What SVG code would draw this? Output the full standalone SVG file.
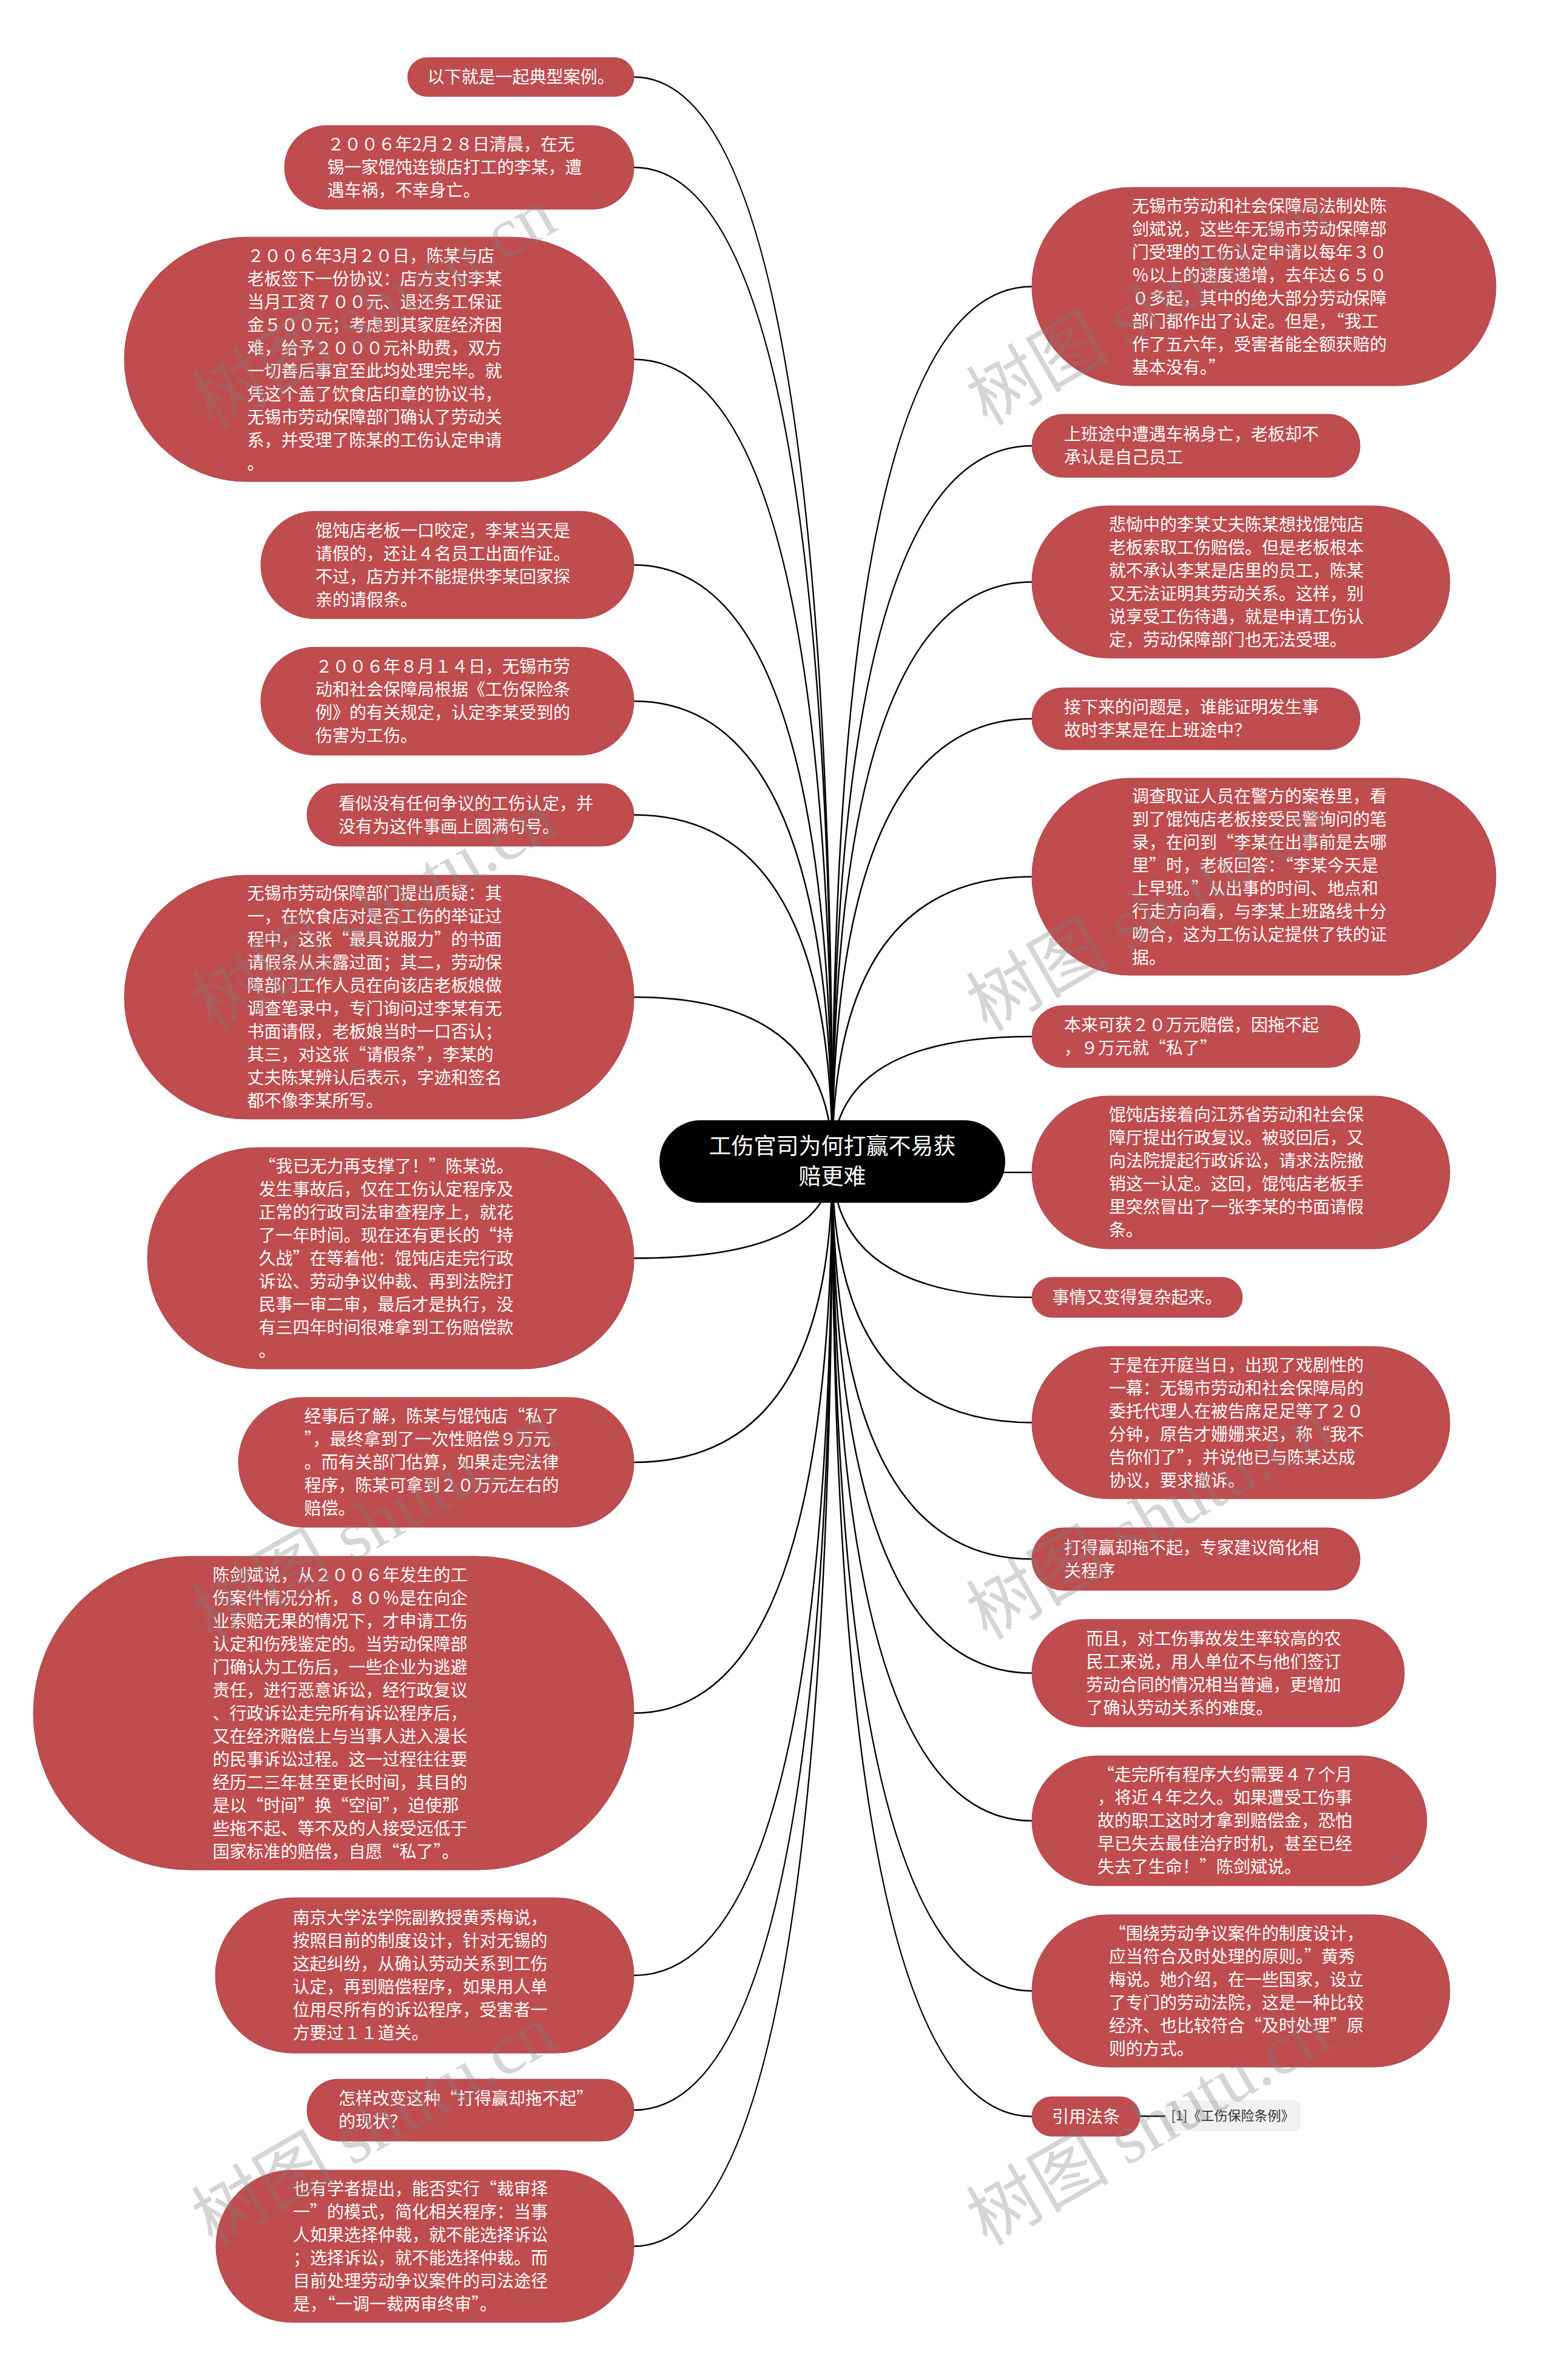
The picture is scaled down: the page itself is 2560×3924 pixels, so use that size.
<svg xmlns="http://www.w3.org/2000/svg" width="2560" height="3924" viewBox="0 0 2560 3924">
<style>
.bg{fill:#ffffff}
.node rect{fill:#bf4c4e;stroke:#b0444a;stroke-width:1}
.node text{fill:#ffffff;font-family:"Noto Sans CJK SC","Liberation Sans",sans-serif;font-size:28px}
.root rect{fill:#000000}
.root text{fill:#ffffff;font-family:"Noto Sans CJK SC","Liberation Sans",sans-serif;font-size:37px;text-anchor:middle}
.sub rect{fill:#f1f1f1;stroke:#e6e6e6;stroke-width:1}
.sub text{fill:#333333;font-family:"Noto Sans CJK SC","Liberation Sans",sans-serif;font-size:22px;text-anchor:middle}
.mid{text-anchor:middle}
#connectors path{fill:none;stroke:#000000;stroke-width:2.5}
.wm{fill:#808080;opacity:0.32;font-family:"Liberation Serif","Noto Sans CJK SC",serif;font-size:118px}
</style>
<rect class="bg" x="0" y="0" width="2560" height="3924"/>
<g id="connectors">
<path d="M1372 1915 Q1372 127 1045 127"/>
<path d="M1372 1915 Q1372 276 1045 276"/>
<path d="M1372 1915 Q1372 592.5 1045 592.5"/>
<path d="M1372 1915 Q1372 931.5 1045 931.5"/>
<path d="M1372 1915 Q1372 1156 1045 1156"/>
<path d="M1372 1915 Q1372 1343.5 1045 1343.5"/>
<path d="M1372 1915 Q1372 1644 1045 1644"/>
<path d="M1372 1915 Q1372 2074.5 1045 2074.5"/>
<path d="M1372 1915 Q1372 2411 1045 2411"/>
<path d="M1372 1915 Q1372 2824.5 1045 2824.5"/>
<path d="M1372 1915 Q1372 3257 1045 3257"/>
<path d="M1372 1915 Q1372 3479 1045 3479"/>
<path d="M1372 1915 Q1372 3703.5 1045 3703.5"/>
<path d="M1372 1915 Q1372 472.5 1701 472.5"/>
<path d="M1372 1915 Q1372 735 1701 735"/>
<path d="M1372 1915 Q1372 959.5 1701 959.5"/>
<path d="M1372 1915 Q1372 1185 1701 1185"/>
<path d="M1372 1915 Q1372 1445.5 1701 1445.5"/>
<path d="M1372 1915 Q1372 1709 1701 1709"/>
<path d="M1372 1915 Q1372 1933 1701 1933"/>
<path d="M1372 1915 Q1372 2139 1701 2139"/>
<path d="M1372 1915 Q1372 2345.5 1701 2345.5"/>
<path d="M1372 1915 Q1372 2570.5 1701 2570.5"/>
<path d="M1372 1915 Q1372 2758.5 1701 2758.5"/>
<path d="M1372 1915 Q1372 3002 1701 3002"/>
<path d="M1372 1915 Q1372 3282.5 1701 3282.5"/>
<path d="M1372 1915 Q1372 3489.5 1701 3489.5"/>
<path d="M1879 3489 L1921 3489"/>
</g>

<g id="L1" class="node"><rect x="672" y="95" width="373" height="64" rx="32"/><text class="mid" x="858.5" y="137">以下就是一起典型案例。</text></g>
<g id="L2" class="node"><rect x="469" y="207" width="576" height="138" rx="69"/><text x="539.5" y="248"><tspan x="539.5">２００６年2月２８日清晨，在无</tspan><tspan x="539.5" dy="38">锡一家馄饨连锁店打工的李某，遭</tspan><tspan x="539.5" dy="38">遇车祸，不幸身亡。</tspan></text></g>
<g id="L3" class="node"><rect x="205" y="391" width="840" height="403" rx="201.5"/><text x="407.5" y="431.5"><tspan x="407.5">２００６年3月２０日，陈某与店</tspan><tspan x="407.5" dy="38">老板签下一份协议：店方支付李某</tspan><tspan x="407.5" dy="38">当月工资７００元、退还务工保证</tspan><tspan x="407.5" dy="38">金５００元；考虑到其家庭经济困</tspan><tspan x="407.5" dy="38">难，给予２０００元补助费，双方</tspan><tspan x="407.5" dy="38">一切善后事宜至此均处理完毕。就</tspan><tspan x="407.5" dy="38">凭这个盖了饮食店印章的协议书，</tspan><tspan x="407.5" dy="38">无锡市劳动保障部门确认了劳动关</tspan><tspan x="407.5" dy="38">系，并受理了陈某的工伤认定申请</tspan><tspan x="407.5" dy="38">。</tspan></text></g>
<g id="L4" class="node"><rect x="430" y="843" width="615" height="177" rx="88.5"/><text x="520" y="884.5"><tspan x="520">馄饨店老板一口咬定，李某当天是</tspan><tspan x="520" dy="38">请假的，还让４名员工出面作证。</tspan><tspan x="520" dy="38">不过，店方并不能提供李某回家探</tspan><tspan x="520" dy="38">亲的请假条。</tspan></text></g>
<g id="L5" class="node"><rect x="430" y="1067" width="615" height="178" rx="89"/><text x="520" y="1109"><tspan x="520">２００６年８月１４日，无锡市劳</tspan><tspan x="520" dy="38">动和社会保障局根据《工伤保险条</tspan><tspan x="520" dy="38">例》的有关规定，认定李某受到的</tspan><tspan x="520" dy="38">伤害为工伤。</tspan></text></g>
<g id="L6" class="node"><rect x="506" y="1292" width="539" height="103" rx="51.5"/><text x="558" y="1334.5"><tspan x="558">看似没有任何争议的工伤认定，并</tspan><tspan x="558" dy="38">没有为这件事画上圆满句号。</tspan></text></g>
<g id="L7" class="node"><rect x="205" y="1443" width="840" height="402" rx="201"/><text x="407.5" y="1483"><tspan x="407.5">无锡市劳动保障部门提出质疑：其</tspan><tspan x="407.5" dy="38">一，在饮食店对是否工伤的举证过</tspan><tspan x="407.5" dy="38">程中，这张“最具说服力”的书面</tspan><tspan x="407.5" dy="38">请假条从未露过面；其二，劳动保</tspan><tspan x="407.5" dy="38">障部门工作人员在向该店老板娘做</tspan><tspan x="407.5" dy="38">调查笔录中，专门询问过李某有无</tspan><tspan x="407.5" dy="38">书面请假，老板娘当时一口否认；</tspan><tspan x="407.5" dy="38">其三，对这张“请假条”，李某的</tspan><tspan x="407.5" dy="38">丈夫陈某辨认后表示，字迹和签名</tspan><tspan x="407.5" dy="38">都不像李某所写。</tspan></text></g>
<g id="L8" class="node"><rect x="243" y="1892" width="802" height="365" rx="182.5"/><text x="426.5" y="1932.5"><tspan x="426.5">“我已无力再支撑了！”陈某说。</tspan><tspan x="426.5" dy="38">发生事故后，仅在工伤认定程序及</tspan><tspan x="426.5" dy="38">正常的行政司法审查程序上，就花</tspan><tspan x="426.5" dy="38">了一年时间。现在还有更长的“持</tspan><tspan x="426.5" dy="38">久战”在等着他：馄饨店走完行政</tspan><tspan x="426.5" dy="38">诉讼、劳动争议仲裁、再到法院打</tspan><tspan x="426.5" dy="38">民事一审二审，最后才是执行，没</tspan><tspan x="426.5" dy="38">有三四年时间很难拿到工伤赔偿款</tspan><tspan x="426.5" dy="38">。</tspan></text></g>
<g id="L9" class="node"><rect x="393" y="2304" width="652" height="214" rx="107"/><text x="501.5" y="2345"><tspan x="501.5">经事后了解，陈某与馄饨店“私了</tspan><tspan x="501.5" dy="38">”，最终拿到了一次性赔偿９万元</tspan><tspan x="501.5" dy="38">。而有关部门估算，如果走完法律</tspan><tspan x="501.5" dy="38">程序，陈某可拿到２０万元左右的</tspan><tspan x="501.5" dy="38">赔偿。</tspan></text></g>
<g id="L10" class="node"><rect x="55" y="2566" width="990" height="517" rx="258.5"/><text x="350.5" y="2606.5"><tspan x="350.5">陈剑斌说，从２００６年发生的工</tspan><tspan x="350.5" dy="38">伤案件情况分析，８０％是在向企</tspan><tspan x="350.5" dy="38">业索赔无果的情况下，才申请工伤</tspan><tspan x="350.5" dy="38">认定和伤残鉴定的。当劳动保障部</tspan><tspan x="350.5" dy="38">门确认为工伤后，一些企业为逃避</tspan><tspan x="350.5" dy="38">责任，进行恶意诉讼，经行政复议</tspan><tspan x="350.5" dy="38">、行政诉讼走完所有诉讼程序后，</tspan><tspan x="350.5" dy="38">又在经济赔偿上与当事人进入漫长</tspan><tspan x="350.5" dy="38">的民事诉讼过程。这一过程往往要</tspan><tspan x="350.5" dy="38">经历二三年甚至更长时间，其目的</tspan><tspan x="350.5" dy="38">是以“时间”换“空间”，迫使那</tspan><tspan x="350.5" dy="38">些拖不起、等不及的人接受远低于</tspan><tspan x="350.5" dy="38">国家标准的赔偿，自愿“私了”。</tspan></text></g>
<g id="L11" class="node"><rect x="355" y="3129" width="690" height="256" rx="128"/><text x="482.5" y="3172"><tspan x="482.5">南京大学法学院副教授黄秀梅说，</tspan><tspan x="482.5" dy="38">按照目前的制度设计，针对无锡的</tspan><tspan x="482.5" dy="38">这起纠纷，从确认劳动关系到工伤</tspan><tspan x="482.5" dy="38">认定，再到赔偿程序，如果用人单</tspan><tspan x="482.5" dy="38">位用尽所有的诉讼程序，受害者一</tspan><tspan x="482.5" dy="38">方要过１１道关。</tspan></text></g>
<g id="L12" class="node"><rect x="506" y="3428" width="539" height="102" rx="51"/><text x="558" y="3470"><tspan x="558">怎样改变这种“打得赢却拖不起”</tspan><tspan x="558" dy="38">的现状？</tspan></text></g>
<g id="L13" class="node"><rect x="356" y="3578" width="689" height="251" rx="125.5"/><text x="483" y="3618.5"><tspan x="483">也有学者提出，能否实行“裁审择</tspan><tspan x="483" dy="38">一”的模式，简化相关程序：当事</tspan><tspan x="483" dy="38">人如果选择仲裁，就不能选择诉讼</tspan><tspan x="483" dy="38">；选择诉讼，就不能选择仲裁。而</tspan><tspan x="483" dy="38">目前处理劳动争议案件的司法途径</tspan><tspan x="483" dy="38">是，“一调一裁两审终审”。</tspan></text></g>

<g id="R1" class="node"><rect x="1701" y="309" width="765" height="327" rx="163.5"/><text x="1866" y="349.5"><tspan x="1866">无锡市劳动和社会保障局法制处陈</tspan><tspan x="1866" dy="38">剑斌说，这些年无锡市劳动保障部</tspan><tspan x="1866" dy="38">门受理的工伤认定申请以每年３０</tspan><tspan x="1866" dy="38">％以上的速度递增，去年达６５０</tspan><tspan x="1866" dy="38">０多起，其中的绝大部分劳动保障</tspan><tspan x="1866" dy="38">部门都作出了认定。但是，“我工</tspan><tspan x="1866" dy="38">作了五六年，受害者能全额获赔的</tspan><tspan x="1866" dy="38">基本没有。”</tspan></text></g>
<g id="R2" class="node"><rect x="1701" y="683" width="541" height="104" rx="52"/><text x="1754" y="726"><tspan x="1754">上班途中遭遇车祸身亡，老板却不</tspan><tspan x="1754" dy="38">承认是自己员工</tspan></text></g>
<g id="R3" class="node"><rect x="1701" y="834" width="689" height="251" rx="125.5"/><text x="1828" y="874.5"><tspan x="1828">悲恸中的李某丈夫陈某想找馄饨店</tspan><tspan x="1828" dy="38">老板索取工伤赔偿。但是老板根本</tspan><tspan x="1828" dy="38">就不承认李某是店里的员工，陈某</tspan><tspan x="1828" dy="38">又无法证明其劳动关系。这样，别</tspan><tspan x="1828" dy="38">说享受工伤待遇，就是申请工伤认</tspan><tspan x="1828" dy="38">定，劳动保障部门也无法受理。</tspan></text></g>
<g id="R4" class="node"><rect x="1701" y="1134" width="541" height="102" rx="51"/><text x="1754" y="1176"><tspan x="1754">接下来的问题是，谁能证明发生事</tspan><tspan x="1754" dy="38">故时李某是在上班途中？</tspan></text></g>
<g id="R5" class="node"><rect x="1701" y="1283" width="765" height="325" rx="162.5"/><text x="1866" y="1322.5"><tspan x="1866">调查取证人员在警方的案卷里，看</tspan><tspan x="1866" dy="38">到了馄饨店老板接受民警询问的笔</tspan><tspan x="1866" dy="38">录，在问到“李某在出事前是去哪</tspan><tspan x="1866" dy="38">里”时，老板回答：“李某今天是</tspan><tspan x="1866" dy="38">上早班。”从出事的时间、地点和</tspan><tspan x="1866" dy="38">行走方向看，与李某上班路线十分</tspan><tspan x="1866" dy="38">吻合，这为工伤认定提供了铁的证</tspan><tspan x="1866" dy="38">据。</tspan></text></g>
<g id="R6" class="node"><rect x="1701" y="1658" width="541" height="102" rx="51"/><text x="1754" y="1700"><tspan x="1754">本来可获２０万元赔偿，因拖不起</tspan><tspan x="1754" dy="38">，９万元就“私了”</tspan></text></g>
<g id="R7" class="node"><rect x="1701" y="1807" width="689" height="252" rx="126"/><text x="1828" y="1848"><tspan x="1828">馄饨店接着向江苏省劳动和社会保</tspan><tspan x="1828" dy="38">障厅提出行政复议。被驳回后，又</tspan><tspan x="1828" dy="38">向法院提起行政诉讼，请求法院撤</tspan><tspan x="1828" dy="38">销这一认定。这回，馄饨店老板手</tspan><tspan x="1828" dy="38">里突然冒出了一张李某的书面请假</tspan><tspan x="1828" dy="38">条。</tspan></text></g>
<g id="R8" class="node"><rect x="1701" y="2106" width="347" height="66" rx="33"/><text class="mid" x="1874.5" y="2149">事情又变得复杂起来。</text></g>
<g id="R9" class="node"><rect x="1701" y="2220" width="689" height="251" rx="125.5"/><text x="1828" y="2260.5"><tspan x="1828">于是在开庭当日，出现了戏剧性的</tspan><tspan x="1828" dy="38">一幕：无锡市劳动和社会保障局的</tspan><tspan x="1828" dy="38">委托代理人在被告席足足等了２０</tspan><tspan x="1828" dy="38">分钟，原告才姗姗来迟，称“我不</tspan><tspan x="1828" dy="38">告你们了”，并说他已与陈某达成</tspan><tspan x="1828" dy="38">协议，要求撤诉。</tspan></text></g>
<g id="R10" class="node"><rect x="1701" y="2519" width="541" height="103" rx="51.5"/><text x="1754" y="2561.5"><tspan x="1754">打得赢却拖不起，专家建议简化相</tspan><tspan x="1754" dy="38">关程序</tspan></text></g>
<g id="R11" class="node"><rect x="1701" y="2670" width="614" height="177" rx="88.5"/><text x="1790.5" y="2711.5"><tspan x="1790.5">而且，对工伤事故发生率较高的农</tspan><tspan x="1790.5" dy="38">民工来说，用人单位不与他们签订</tspan><tspan x="1790.5" dy="38">劳动合同的情况相当普遍，更增加</tspan><tspan x="1790.5" dy="38">了确认劳动关系的难度。</tspan></text></g>
<g id="R12" class="node"><rect x="1701" y="2895" width="651" height="214" rx="107"/><text x="1809" y="2936"><tspan x="1809">“走完所有程序大约需要４７个月</tspan><tspan x="1809" dy="38">，将近４年之久。如果遭受工伤事</tspan><tspan x="1809" dy="38">故的职工这时才拿到赔偿金，恐怕</tspan><tspan x="1809" dy="38">早已失去最佳治疗时机，甚至已经</tspan><tspan x="1809" dy="38">失去了生命！”陈剑斌说。</tspan></text></g>
<g id="R13" class="node"><rect x="1701" y="3157" width="689" height="251" rx="125.5"/><text x="1828" y="3197.5"><tspan x="1828">“围绕劳动争议案件的制度设计，</tspan><tspan x="1828" dy="38">应当符合及时处理的原则。”黄秀</tspan><tspan x="1828" dy="38">梅说。她介绍，在一些国家，设立</tspan><tspan x="1828" dy="38">了专门的劳动法院，这是一种比较</tspan><tspan x="1828" dy="38">经济、也比较符合“及时处理”原</tspan><tspan x="1828" dy="38">则的方式。</tspan></text></g>
<g id="R14" class="node"><rect x="1701" y="3457" width="178" height="65" rx="32.5"/><text class="mid" x="1790" y="3499.5">引用法条</text></g>
<g id="R14a" class="sub"><rect x="1921" y="3464" width="222" height="49" rx="8"/><text x="2032" y="3496">[1]《工伤保险条例》</text></g>

<g id="root" class="root"><rect x="1087" y="1847" width="570" height="136" rx="68"/><text x="1372" y="1903">工伤官司为何打赢不易获</text><text x="1372" y="1953">赔更难</text></g>

<g id="watermark">
<text class="wm" transform="translate(350 708) rotate(-30)">树图 shutu.cn</text>
<text class="wm" transform="translate(350 1702) rotate(-30)">树图 shutu.cn</text>
<text class="wm" transform="translate(350 2710) rotate(-30)">树图 shutu.cn</text>
<text class="wm" transform="translate(350 3704) rotate(-30)">树图 shutu.cn</text>
<text class="wm" transform="translate(1627 703) rotate(-30)">树图 shutu.cn</text>
<text class="wm" transform="translate(1627 1702) rotate(-30)">树图 shutu.cn</text>
<text class="wm" transform="translate(1627 2705) rotate(-30)">树图 shutu.cn</text>
<text class="wm" transform="translate(1627 3704) rotate(-30)">树图 shutu.cn</text>
</g>
</svg>
